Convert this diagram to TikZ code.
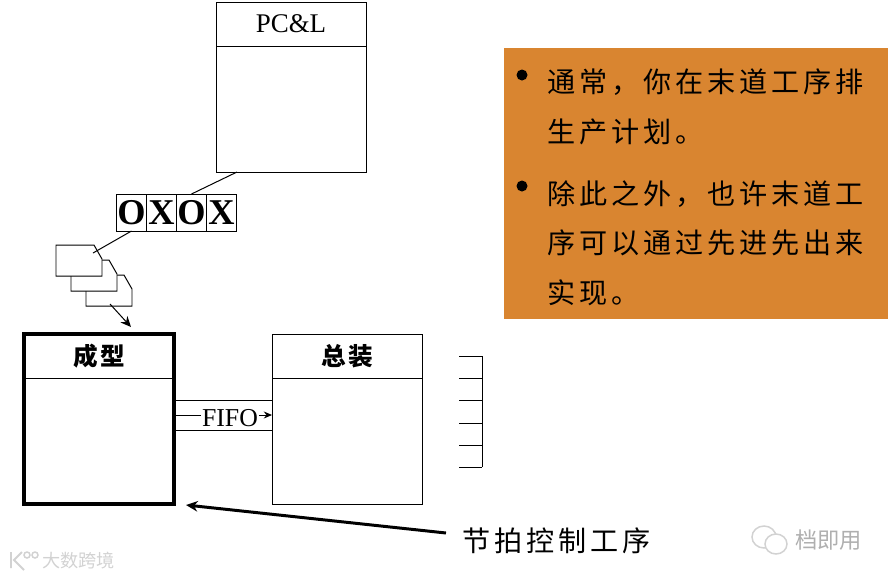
\documentclass[tikz,border=0pt]{standalone}
\usepackage{fontspec}
\setmainfont{Liberation Serif}
\newfontfamily\cjk[LetterSpace=14]{Noto Sans CJK SC}
\newfontfamily\cjkhead[LetterSpace=10]{Noto Sans CJK SC}
\newfontfamily\cjkmark{Noto Sans CJK SC}
\usepackage{xcolor}
\usetikzlibrary{arrows.meta, positioning, calc}
\definecolor{notebg}{RGB}{217, 133, 48}
\definecolor{markgray}{RGB}{210, 210, 210}
\definecolor{markdark}{RGB}{175, 175, 175}
\tikzset{
  px/.style={line width=#1*0.85pt},
  procbox/.style={draw, px=1, minimum width=4.5cm, minimum height=5.1cm, inner sep=0pt, outer sep=0pt},
  headbox/.style={draw, px=1, minimum width=4.5cm, minimum height=1.32cm, inner sep=0pt, outer sep=0pt},
  headtext/.style={font=\cjkhead\bfseries\fontsize{21}{24}\selectfont},
  kanbancell/.style={draw, px=1, minimum width=0.9cm, minimum height=1.11cm, inner sep=0pt, outer sep=0pt,
    font=\bfseries\fontsize{31}{31}\selectfont},
  noteline/.style={anchor=west, inner sep=0pt, font=\cjk\fontsize{24}{28}\selectfont},
  thinline/.style={px=1},
  markline/.style={anchor=west, inner sep=0pt},
}
\begin{document}
\begin{tikzpicture}[x=0.03cm, y=-0.03cm]
  \useasboundingbox (0,0) rectangle (888,578);

  % 说明框
  \node[fill=notebg, minimum width=11.52cm, minimum height=8.13cm, inner sep=0pt, anchor=north west] (notebox) at (504,48) {};
  \fill (522,75) circle (5.5) (522,186) circle (5.5);
  \node[noteline] (note1) at (547,82) {通常，你在末道工序排};
  \node[noteline] (note2) at (547,132) {生产计划。};
  \node[noteline] (note3) at (547,194) {除此之外，也许末道工};
  \node[noteline] (note4) at (547,243) {序可以通过先进先出来};
  \node[noteline] (note5) at (547,293) {实现。};

  % 计划
  \node[procbox, anchor=north west] (pcl) at (216,2) {};
  \node[headbox, anchor=north, font=\fontsize{23}{26}\selectfont] (pclhead) at (pcl.north) {PC\&L};

  % 看板 OXOX
  \node[kanbancell, anchor=north west] (cellA) at (116.5,194) {O};
  \node[kanbancell, right=0pt of cellA] (cellB) {X};
  \node[kanbancell, right=0pt of cellB] (cellC) {O};
  \node[kanbancell, right=0pt of cellC] (cellD) {X};
  \draw[thinline] ($(pcl.south west)!0.14!(pcl.south east)$) -- (cellC.north);

  % 工单
  \foreach \dx/\dy in {30/30, 15/15, 0/0} {
    \draw[thinline, fill=white] (56+\dx,245+\dy) -- (94+\dx,245+\dy) -- (102+\dx,259+\dy)
      -- (102+\dx,276+\dy) -- (56+\dx,276+\dy) -- cycle;
  }
  \coordinate (orderin) at (93,253);
  \coordinate (orderout) at (110,304);
  \draw[thinline] (cellA.south) -- (orderin);

  % 成型、总装
  \node[procbox, px=4, anchor=north west] (mold) at (24,334) {};
  \node[headbox, anchor=north, draw=none] (moldhead) at (mold.north) {};
  \draw[thinline] (moldhead.south west) -- (moldhead.south east);
  \node[headtext] at (moldhead) {成型};
  \node[procbox, anchor=north west] (assy) at (272,334) {};
  \node[headbox, anchor=north, headtext] (assyhead) at (assy.north) {总装};
  \coordinate (moldtip) at (131,327);
  \draw[thinline, -{Stealth[length=9pt, width=8pt]}] (orderout) -- (moldtip);

  % FIFO
  \draw[thinline] (174,400) -- (272,400);
  \draw[thinline] (174,430) -- (272,430);
  \coordinate (fifoL) at (mold.east |- 0,415);
  \coordinate (fifoR) at (assy.west |- 0,415);
  \draw[thinline, -{Stealth[length=7pt, width=6pt]}] (fifoL) -- (fifoR);
  \node[fill=white, inner sep=1pt, font=\fontsize{22}{24}\selectfont] (fifo) at (230,418) {FIFO};

  % 缓冲刻度
  \draw[thinline] (482,356) -- (482,467);
  \foreach \y in {356,378,400,423,445,467} {
    \draw[thinline] (459,\y) -- (482,\y);
  }

  % 节拍标注
  \node[noteline] (pacer) at (462,541) {节拍控制工序};
  \coordinate (pacertail) at (446,533);
  \coordinate (pacertip) at (186,505);
  \draw[px=3, -{Stealth[length=10pt, width=9pt]}] (pacertail) -- (pacertip);

  % 水印
  \node[markline, text=markgray, font=\cjkmark\fontsize{15.5}{18}\selectfont] (markA) at (42,561) {大数跨境};
  \node[markline, text=markdark, font=\cjkmark\fontsize{19}{22}\selectfont] (markB) at (795,540) {档即用};
  \draw[markgray, px=1.5] (764,537) ellipse (12 and 11);
  \draw[markgray, px=1.5, fill=white] (776,544) ellipse (11 and 10);
  \draw[markgray, px=2] (11,552) -- (11,568) (22,552) -- (14,560) -- (24,570);
  \draw[markgray, px=1.5] (27,555) circle (3) (35,555) circle (3);
\end{tikzpicture}
\end{document}
